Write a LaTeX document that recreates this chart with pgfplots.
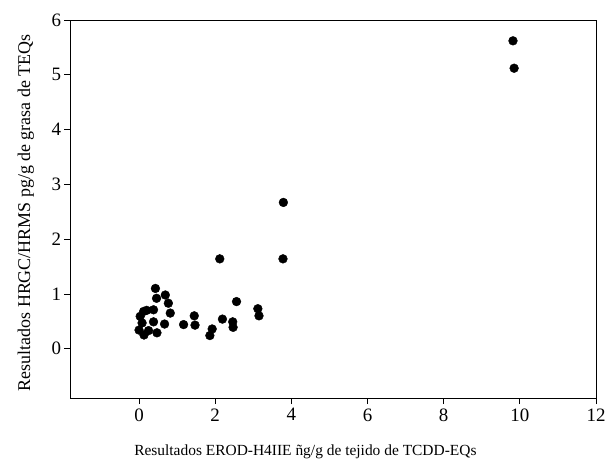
\documentclass[border=0pt]{standalone}
\usepackage{pgfplots}
\pgfplotsset{compat=1.18}
\usepackage{fontspec}
\setmainfont{Liberation Serif}
\begin{document}
\begin{tikzpicture}
\useasboundingbox (-70.5bp,-61bp) rectangle (535.5bp,398bp);
\begin{axis}[
  at={(0,0)}, anchor=south west,
  scale only axis,
  width=525.5bp, height=378bp,
  xmin=-1.8, xmax=12, ymin=-0.9, ymax=6,
  xtick={0,2,4,6,8,10,12}, ytick={0,1,2,3,4,5,6},
  tick align=outside, tick pos=left,
  major tick length=6bp,
  every tick/.style={black, line width=0.8pt},
  axis line style={black, line width=0.8pt},
  /pgf/number format/assume math mode=true,
  ticklabel style={font=\fontsize{19}{21}\selectfont},
  xticklabel style={yshift=-1bp},
  xlabel={Resultados EROD-H4IIE ñg/g de tejido de TCDD-EQs},
  ylabel={Resultados HRGC/HRMS pg/g de grasa de TEQs},
  xlabel style={font=\fontsize{15.5}{17}\selectfont, at={(axis description cs:0.447,-0.1508)}, anchor=base, inner sep=0pt},
  ylabel style={font=\fontsize{18}{20}\selectfont, at={(axis description cs:-0.077,0.49)}, anchor=base, inner sep=0pt},
]
\addplot[only marks, mark=*, mark size=4.4bp, black] coordinates {
(0.00,0.34) (0.03,0.59) (0.08,0.47) (0.12,0.68) (0.13,0.25) (0.20,0.70)
(0.25,0.33) (0.38,0.71) (0.38,0.49) (0.47,0.29) (0.43,1.10) (0.46,0.92)
(0.69,0.98) (0.77,0.83) (0.82,0.65) (0.67,0.45) (1.17,0.44) (1.45,0.60)
(1.47,0.43) (1.86,0.24) (1.92,0.36) (2.12,1.64) (2.19,0.54) (2.46,0.49)
(2.47,0.39) (2.56,0.86) (3.12,0.73) (3.15,0.60) (3.79,2.67) (3.78,1.64)
(9.82,5.62) (9.85,5.12)
};
\end{axis}
\end{tikzpicture}
\end{document}
